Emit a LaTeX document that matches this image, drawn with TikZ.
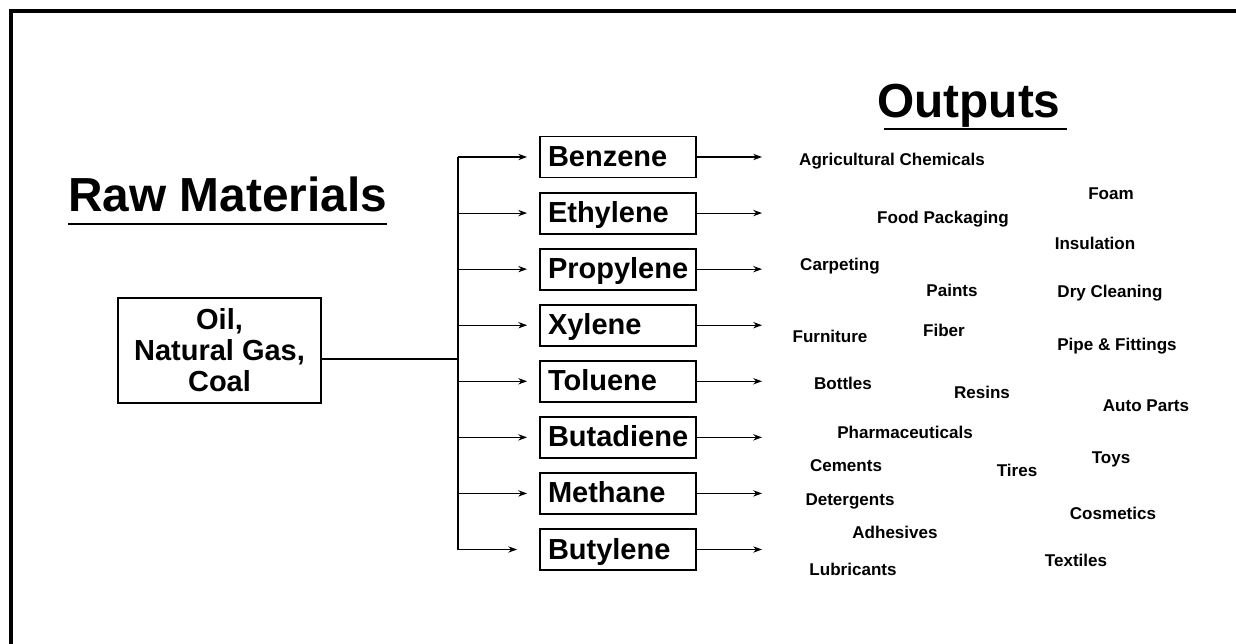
\documentclass[tikz,border=0pt]{standalone}
\usepackage{fontspec}
\setmainfont{Liberation Sans}
\usetikzlibrary{arrows.meta,positioning}

\begin{document}
\begin{tikzpicture}[x=0.02cm,y=-0.02cm,>={Stealth[length=5pt,width=3.6pt]},
    node distance=0.263cm,
    title/.style={font=\fontsize{27.2}{30}\selectfont\bfseries,inner sep=0},
    src/.style={rectangle,draw,line width=1.1pt,align=center,
      font=\fontsize{16.5}{17.6}\selectfont\bfseries,
      minimum width=4.06cm,minimum height=2.1cm},
    chem/.style={rectangle,draw,line width=1.1pt,align=left,
      font=\fontsize{16.5}{18}\selectfont\bfseries,text width=2.8cm,
      inner xsep=0.16cm,inner ysep=0.1cm,minimum height=0.82cm,
      text height=0.44cm,text depth=0.06cm},
    link/.style={line width=0.6pt},
    item/.style={font=\fontsize{9.7}{11}\selectfont\bfseries,inner sep=0}]
\useasboundingbox (0,0) rectangle (1236,644);
\draw[line width=2.3pt] (11,644) -- (11,11) -- (1236,11);

% headings
\node[title,anchor=base west] (rawt) at (68,212) {Raw Materials};
\draw[link] ([yshift=-0.24cm]rawt.base west) -- ([yshift=-0.24cm]rawt.base east);
\node[title,anchor=base west] (outt) at (877,118) {Outputs};
\draw[link] ([xshift=0.14cm,yshift=-0.22cm]outt.base west)
  -- ([xshift=0.12cm,yshift=-0.22cm]outt.base east);

% raw materials and the eight feedstocks
\node[src] (src) at (219.5,350.5) {Oil,\\Natural Gas,\\Coal};
\coordinate (hub) at (458,359);
\coordinate (out) at (762,0);
\node[chem] (benz) at (618,157) {Benzene};
\node[chem,below=of benz] (eth) {Ethylene};
\node[chem,below=of eth] (prop) {Propylene};
\node[chem,below=of prop] (xyl) {Xylene};
\node[chem,below=of xyl] (tol) {Toluene};
\node[chem,below=of tol] (buta) {Butadiene};
\node[chem,below=of buta] (meth) {Methane};
\node[chem,below=of meth] (buty) {Butylene};

\draw[link] (src.east |- hub) -- (hub);
\draw[link] (hub |- benz) -- (hub |- buty);
\draw[link,->,shorten >=0.24cm] (hub |- benz) -- (benz);
\draw[link,->,shorten >=0.24cm] (hub |- eth) -- (eth);
\draw[link,->,shorten >=0.24cm] (hub |- prop) -- (prop);
\draw[link,->,shorten >=0.24cm] (hub |- xyl) -- (xyl);
\draw[link,->,shorten >=0.24cm] (hub |- tol) -- (tol);
\draw[link,->,shorten >=0.24cm] (hub |- buta) -- (buta);
\draw[link,->,shorten >=0.24cm] (hub |- meth) -- (meth);
\draw[link,->,shorten >=0.44cm] (hub |- buty) -- (buty);

\draw[link,->] (benz) -- (benz -| out);
\draw[link,->] (eth) -- (eth -| out);
\draw[link,->] (prop) -- (prop -| out);
\draw[link,->] (xyl) -- (xyl -| out);
\draw[link,->] (tol) -- (tol -| out);
\draw[link,->] (buta) -- (buta -| out);
\draw[link,->] (meth) -- (meth -| out);
\draw[link,->] (buty) -- (buty -| out);

% outputs
\node[item] (agri) at (892,161) {Agricultural Chemicals};
\node[item] (foam) at (1111,194) {Foam};
\node[item] (food) at (943,219) {Food Packaging};
\node[item] (insul) at (1095,243) {Insulation};
\node[item] (carp) at (840,266) {Carpeting};
\node[item] (paint) at (952,290) {Paints};
\node[item] (dry) at (1110,293) {Dry Cleaning};
\node[item] (furn) at (830,336) {Furniture};
\node[item] (fiber) at (944,330) {Fiber};
\node[item] (pipe) at (1117,346) {Pipe \& Fittings};
\node[item] (bott) at (843,383) {Bottles};
\node[item] (resin) at (982,392) {Resins};
\node[item] (auto) at (1146,406) {Auto Parts};
\node[item] (pharm) at (905,432) {Pharmaceuticals};
\node[item] (cem) at (846,466) {Cements};
\node[item] (tire) at (1017,470) {Tires};
\node[item] (toys) at (1111,459) {Toys};
\node[item] (deter) at (850,501) {Detergents};
\node[item] (adhes) at (895,532) {Adhesives};
\node[item] (cosm) at (1113,513) {Cosmetics};
\node[item] (text) at (1076,560) {Textiles};
\node[item] (lubr) at (853,569) {Lubricants};
\end{tikzpicture}
\end{document}
